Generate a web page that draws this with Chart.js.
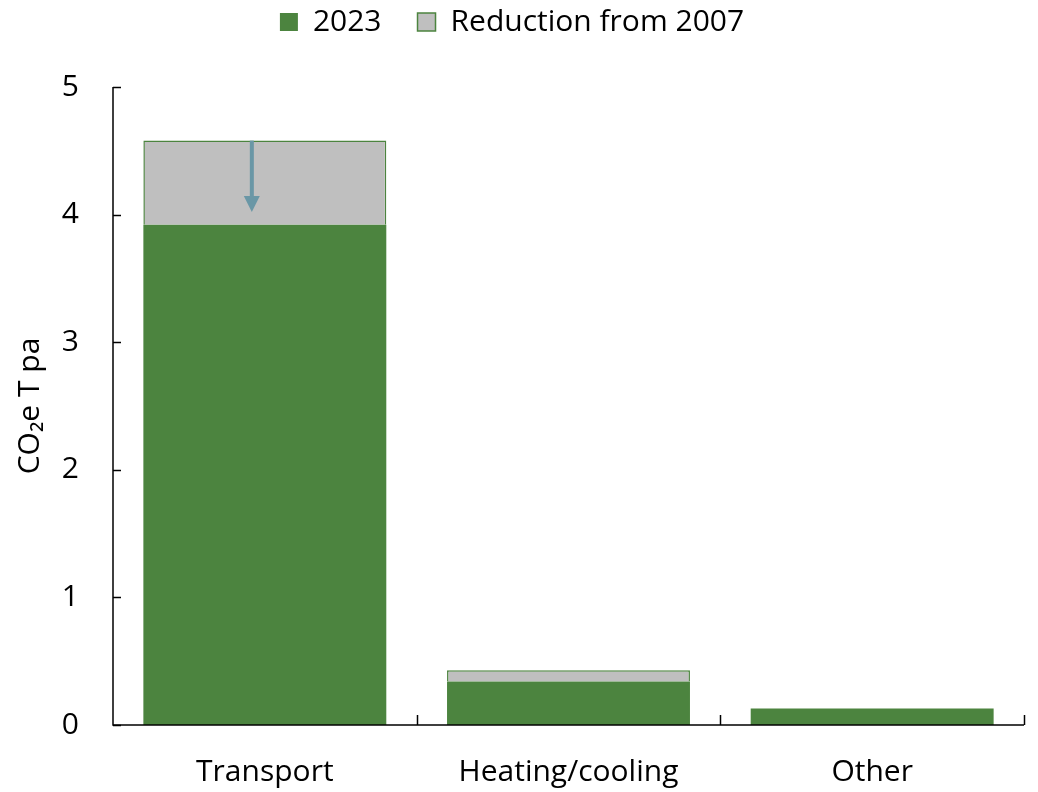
<!DOCTYPE html>
<html>
<head>
<meta charset="utf-8">
<script src="https://cdn.jsdelivr.net/npm/chart.js@4"></script>
<style>
  html, body { margin: 0; padding: 0; background: #fff; }
  #wrap { width: 1038px; height: 792px; }
</style>
</head>
<body>
<div id="wrap"><canvas id="c" width="1038" height="792"></canvas></div>
<script>
const categories = ['Transport', 'Heating/cooling', 'Other'];
const values2023 = [3.92, 0.34, 0.13];
const reductionFrom2007 = [0.66, 0.09, 0];
const yTicks = [0, 1, 2, 3, 4, 5];
const arrowFrom = 4.58;
const arrowTo = 4.02;

const GREEN = '#4c843f';
const GRAY = '#bfbfbf';
const FONT = "'Open Sans', 'Noto Sans', sans-serif";
const FS = 30;

const legendTweak = {
  id: 'legendTweak',
  beforeLayout(chart) {
    const lg = chart.legend;
    if (!lg || lg._patched) return;
    lg._patched = true;
    const origFit = lg.fit.bind(lg);
    lg.fit = function () { origFit(); this.height = 87; };
    const origDraw = lg.draw.bind(lg);
    lg.draw = function () {
      const t = this.top;
      this.top = t - 29;
      origDraw();
      this.top = t;
    };
  }
};

const inwardTicks = {
  id: 'inwardTicks',
  afterDraw(chart) {
    const ctx = chart.ctx;
    const x = chart.scales.x, y = chart.scales.y;
    ctx.save();
    ctx.strokeStyle = '#000';
    ctx.lineWidth = 1.5;
    ctx.beginPath();
    ctx.moveTo(x.left, y.top);
    ctx.lineTo(x.left, y.bottom);
    ctx.lineTo(x.right, y.bottom);
    ctx.stroke();
    yTicks.forEach(v => {
      const py = Math.round(y.getPixelForValue(v)) + 0.5;
      ctx.beginPath();
      ctx.moveTo(x.left, py);
      ctx.lineTo(x.left + 8, py);
      ctx.stroke();
    });
    const n = categories.length;
    const step = x.getPixelForValue(1) - x.getPixelForValue(0);
    for (let i = 0; i < n; i++) {
      const px = Math.round(x.getPixelForValue(i) + step / 2) + 0.5;
      ctx.beginPath();
      ctx.moveTo(px, y.bottom);
      ctx.lineTo(px, y.bottom - 10);
      ctx.stroke();
    }
    const ax = x.getPixelForValue(0) - 13;
    const y1 = y.getPixelForValue(arrowFrom);
    const y2 = y.getPixelForValue(arrowTo);
    ctx.strokeStyle = '#6a97a6';
    ctx.fillStyle = '#6a97a6';
    ctx.lineWidth = 4;
    ctx.beginPath();
    ctx.moveTo(ax, y1);
    ctx.lineTo(ax, y2 - 14);
    ctx.stroke();
    ctx.beginPath();
    ctx.moveTo(ax - 8, y2 - 16);
    ctx.lineTo(ax + 8, y2 - 16);
    ctx.lineTo(ax, y2);
    ctx.closePath();
    ctx.fill();
    ctx.restore();
  }
};

new Chart(document.getElementById('c'), {
  type: 'bar',
  data: {
    labels: categories,
    datasets: [
      { label: '2023', data: values2023, backgroundColor: GREEN, borderWidth: 0, stack: 's' },
      { label: 'Reduction from 2007', data: reductionFrom2007, backgroundColor: GRAY, borderColor: GREEN, borderWidth: 1.5, borderSkipped: 'bottom', stack: 's' }
    ]
  },
  options: {
    responsive: false,
    animation: false,
    devicePixelRatio: 1,
    layout: { padding: { left: 0, right: 14, top: 0, bottom: 0 } },
    datasets: { bar: { barPercentage: 0.8, categoryPercentage: 1.0 } },
    plugins: {
      legend: {
        position: 'top',
        labels: {
          font: { family: FONT, size: FS },
          color: '#000',
          boxWidth: 18,
          boxHeight: 18,
          padding: 36,
          generateLabels(chart) {
            return chart.data.datasets.map((ds, i) => ({
              text: ds.label,
              fillStyle: ds.backgroundColor,
              strokeStyle: GREEN,
              lineWidth: i === 1 ? 1.5 : 0,
              hidden: false,
              datasetIndex: i,
              fontColor: '#000'
            }));
          }
        }
      },
      tooltip: { enabled: false }
    },
    scales: {
      x: {
        stacked: true,
        offset: true,
        grid: { display: false, drawTicks: false },
        border: { display: false },
        ticks: { font: { family: FONT, size: FS }, color: '#000', padding: 29 },
        afterFit(s) { s.height = 67; }
      },
      y: {
        stacked: true,
        min: 0,
        max: 5,
        grid: { display: false, drawTicks: false },
        border: { display: false },
        ticks: { stepSize: 1, font: { family: FONT, size: FS }, color: '#000', padding: 34 },
        title: { display: true, text: 'CO₂e T pa', font: { family: FONT, size: FS }, color: '#000', padding: { top: 12, bottom: 0 } },
        afterFit(s) { s.width = 113; }
      }
    }
  },
  plugins: [legendTweak, inwardTicks]
});
</script>
</body>
</html>
